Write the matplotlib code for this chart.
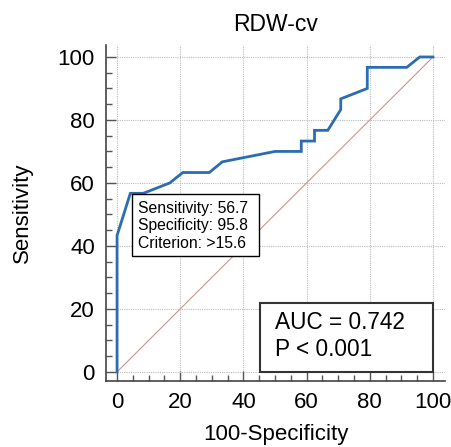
import matplotlib
matplotlib.use("Agg")
import matplotlib.pyplot as plt
from matplotlib.ticker import MultipleLocator
from matplotlib.patches import Rectangle

# ROC curve (100-Specificity, Sensitivity)
fpr = [0, 0, 4.2, 8.3, 16.7, 20.8, 29.2, 33.3, 50.0, 58.3, 58.3, 62.5, 62.5,
       66.7, 70.8, 70.8, 79.2, 79.2, 91.7, 95.8, 100]
tpr = [0, 43.3, 56.7, 56.7, 60.0, 63.3, 63.3, 66.7, 70.0, 70.0, 73.3, 73.3, 76.7,
       76.7, 83.3, 86.7, 90.0, 96.7, 96.7, 100, 100]
diag = [0, 100]
ticks = [0, 20, 40, 60, 80, 100]
title = "RDW-cv"
xlabel = "100-Specificity"
ylabel = "Sensitivity"
box_lines = ["Sensitivity: 56.7", "Specificity: 95.8", "Criterion: >15.6"]
auc_lines = ["AUC = 0.742", "P < 0.001"]

plt.rcParams['font.family'] = ['Liberation Sans', 'DejaVu Sans']

fig = plt.figure(figsize=(4.52, 4.47), dpi=100)
ax = fig.add_axes([106/452, 1-381/447, (445-106)/452, (381-45)/447])

ax.plot(diag, diag, color='#d58f8f', lw=0.8, zorder=2)
ax.plot(fpr, tpr, color='#2a6db0', lw=2.0, zorder=3, solid_joinstyle='miter')

ax.set_xlim(-3.5, 103.8)
ax.set_ylim(-2.9, 103.8)
ax.set_xticks(ticks)
ax.set_yticks(ticks)
ax.xaxis.set_minor_locator(MultipleLocator(5))
ax.yaxis.set_minor_locator(MultipleLocator(5))
ax.grid(True, which='major', color='#bdbdbd', ls=(0, (1, 1)), lw=0.8)
ax.set_axisbelow(True)
for s in ['top', 'right']:
    ax.spines[s].set_visible(False)
for s in ['left', 'bottom']:
    ax.spines[s].set_color('#444444')
    ax.spines[s].set_linewidth(1.2)
ax.tick_params(which='major', direction='in', length=7, width=1, color='#555555',
               labelsize=16, pad=8)
ax.tick_params(which='minor', direction='in', length=4, width=1, color='#555555')

ax.set_title(title, fontsize=16.5, pad=10)
ax.set_xlabel(xlabel, fontsize=16, labelpad=8)
ax.set_ylabel(ylabel, fontsize=16, labelpad=18)

# criterion box
ax.add_patch(Rectangle((4.6, 36.8), 40.4, 19.7, fc='white', ec='black', lw=1.0, zorder=5))
for i, line in enumerate(box_lines):
    ax.text(6.6, 52.0 - i * 5.55, line, fontsize=11.3, va='center', ha='left', zorder=6)

# AUC box
ax.add_patch(Rectangle((45.3, 0.0), 54.7, 21.9, fc='white', ec='#333333', lw=1.5, zorder=5))
for i, line in enumerate(auc_lines):
    ax.text(50.0, 15.7 - i * 8.7, line, fontsize=16.3, va='center', ha='left', zorder=6)

fig.savefig("out.png", dpi=100)
